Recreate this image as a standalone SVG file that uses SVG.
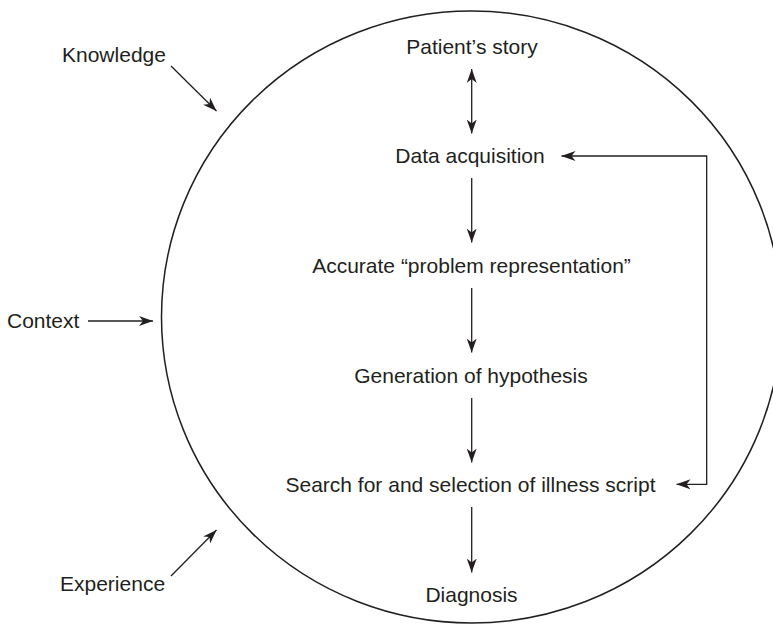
<svg xmlns="http://www.w3.org/2000/svg" width="773" height="625" viewBox="0 0 773 625">
<style>
text{font-family:"Liberation Sans",Arial,sans-serif;font-size:21px;fill:#231f20}
.c{text-anchor:middle}
.ln{stroke:#231f20;stroke-width:1.3;fill:none}
</style>
<defs>
<marker id="ah" viewBox="0 0 14 10" refX="14" refY="5" markerWidth="14" markerHeight="10" markerUnits="userSpaceOnUse" orient="auto-start-reverse">
<path d="M0,0 L14,5 L0,10 L4,5 z" fill="#231f20"/>
</marker>
</defs>
<rect width="773" height="625" fill="#fff"/>
<g id="circle"><ellipse cx="471.5" cy="317" rx="310" ry="306" fill="none" stroke="#231f20" stroke-width="1.5"/></g>
<g id="n-knowledge"><text x="62" y="62">Knowledge</text></g>
<g id="n-context"><text x="7" y="328">Context</text></g>
<g id="n-experience"><text x="60" y="591">Experience</text></g>
<g id="n-story"><text class="c" x="472" y="54">Patient’s story</text></g>
<g id="n-data"><text class="c" x="470" y="163">Data acquisition</text></g>
<g id="n-accurate"><text class="c" x="471.5" y="273">Accurate “problem representation”</text></g>
<g id="n-generation"><text class="c" x="471" y="383">Generation of hypothesis</text></g>
<g id="n-search"><text class="c" x="470.5" y="492">Search for and selection of illness script</text></g>
<g id="n-diagnosis"><text class="c" x="471.5" y="602">Diagnosis</text></g>
<g id="connectors">
<line class="ln" x1="171" y1="66" x2="216.5" y2="111" marker-end="url(#ah)"/>
<line class="ln" x1="88" y1="321" x2="153" y2="321" marker-end="url(#ah)"/>
<line class="ln" x1="171" y1="576" x2="216.5" y2="530" marker-end="url(#ah)"/>
<line class="ln" x1="471.7" y1="69" x2="471.7" y2="133.5" marker-start="url(#ah)" marker-end="url(#ah)"/>
<line class="ln" x1="471.7" y1="178" x2="471.7" y2="242.5" marker-end="url(#ah)"/>
<line class="ln" x1="471.7" y1="288" x2="471.7" y2="352.5" marker-end="url(#ah)"/>
<line class="ln" x1="471.7" y1="398" x2="471.7" y2="462.5" marker-end="url(#ah)"/>
<line class="ln" x1="471.7" y1="507" x2="471.7" y2="572.5" marker-end="url(#ah)"/>
<polyline class="ln" points="676.5,484.3 706.7,484.3 706.7,156 561.5,156" marker-start="url(#ah)" marker-end="url(#ah)"/>
</g>
</svg>
